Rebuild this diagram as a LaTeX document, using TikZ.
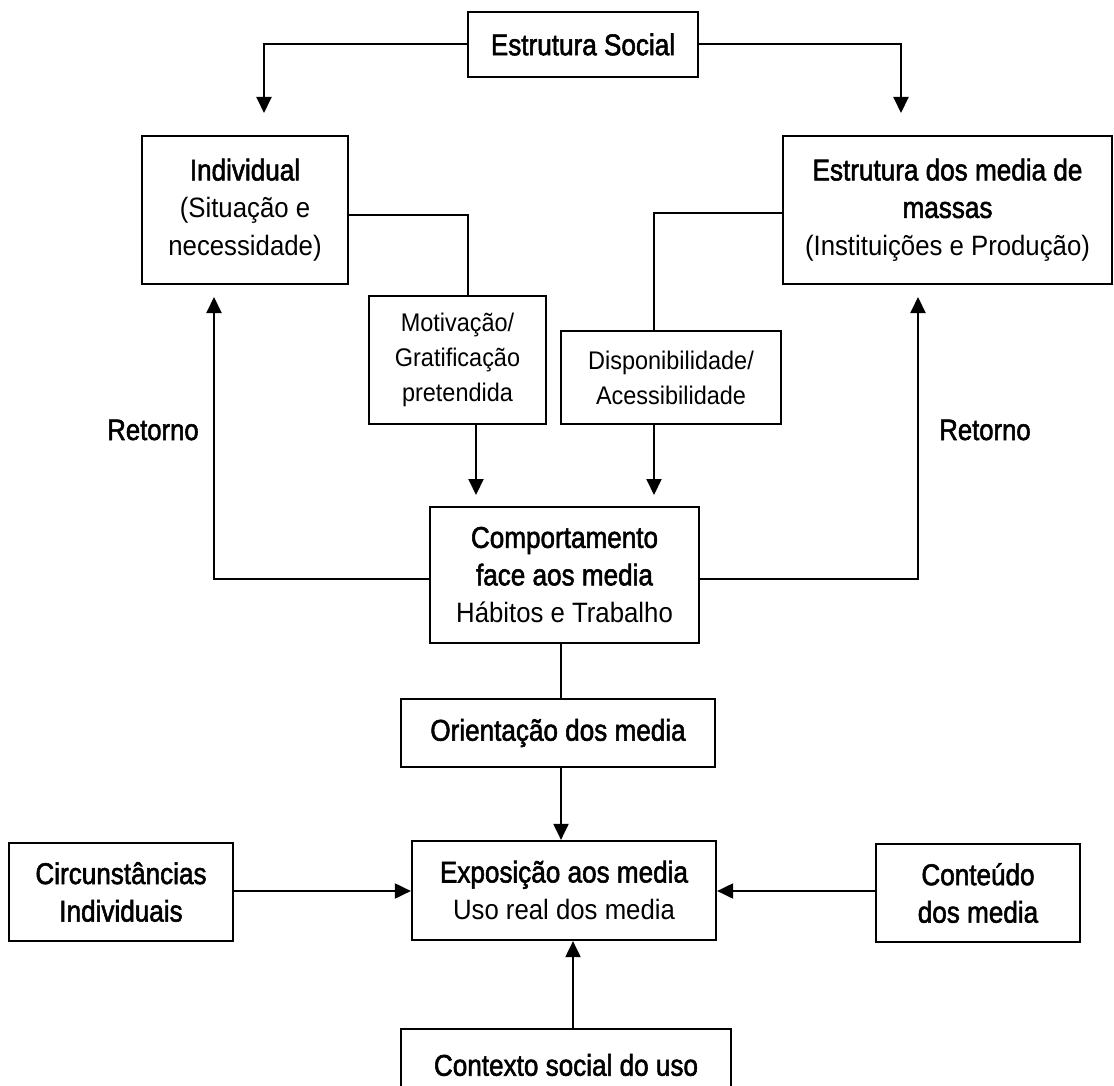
\documentclass[tikz,border=0pt]{standalone}
\usepackage{fontspec}
\setmainfont[FakeStretch=0.92]{Liberation Sans}
\newfontfamily\hv[FakeBold=1.8,FakeStretch=0.87]{Liberation Sans}
\usetikzlibrary{arrows.meta}
\newcommand{\hb}[1]{{\fontsize{30}{37.5}\selectfont\hv #1}}
\tikzset{
  box/.style={draw, line width=2.2pt, inner sep=0pt, align=center,
    font=\fontsize{28}{37.5}\selectfont},
  sbox/.style={box, font=\fontsize{25.5}{35}\selectfont},
  ln/.style={line width=2pt},
  arr/.style={line width=2pt, -{Triangle[width=15pt,length=16pt]}},
  lbl/.style={inner sep=0pt, font=\fontsize{29.5}{30}\selectfont\hv}
}
\begin{document}
\begin{tikzpicture}[x=1pt,y=-1pt]
\useasboundingbox (0,0) rectangle (1114,1086);
\fill[white] (0,0) rectangle (1114,1086);
\clip (0,0) rectangle (1114,1086);

\node[box, minimum width=230pt, minimum height=65pt] (soc) at (583,44.5) {\hb{Estrutura Social}};
\node[box, minimum width=206pt, minimum height=148pt] (ind) at (245,210) {\hb{Individual}\\(Situação e\\necessidade)};
\node[box, minimum width=329pt, minimum height=148pt] (edm) at (947.5,210) {\hb{Estrutura dos media de}\\\hb{massas}\\(Instituições e Produção)};
\node[sbox, minimum width=177pt, minimum height=128pt] (mot) at (457.5,360) {Motivação/\\Gratificação\\pretendida};
\node[sbox, minimum width=220pt, minimum height=93pt] (dis) at (671,377.5) {Disponibilidade/\\Acessibilidade};
\node[box, minimum width=269pt, minimum height=136pt] (comp) at (564.5,575) {\hb{Comportamento}\\\hb{face aos media}\\Hábitos e Trabalho};
\node[box, minimum width=314pt, minimum height=68pt] (ori) at (558,733) {\hb{Orientação dos media}};
\node[box, minimum width=304pt, minimum height=99pt] (exp) at (564,890.5) {\hb{Exposição aos media}\\Uso real dos media};
\node[box, minimum width=224pt, minimum height=98pt] (circ) at (121,892) {\hb{Circunstâncias}\\\hb{Individuais}};
\node[box, minimum width=204pt, minimum height=98pt] (cont) at (978,893) {\hb{Conteúdo}\\\hb{dos media}};
\node[box, minimum width=330pt, minimum height=72pt] (ctx) at (566,1065) {\hb{Contexto social do uso}};
\node[lbl] (ret1) at (153,430) {Retorno};
\node[lbl] (ret2) at (985,430) {Retorno};

% Estrutura Social to the two top boxes
\coordinate (t1) at (264,113);
\coordinate (t2) at (901,113);
\draw[arr] (soc.west) -| (t1);
\draw[arr] (soc.east) -| (t2);

% Individual -> Motivacao ; Estrutura dos media -> Disponibilidade
\coordinate (j1) at (468,215);
\coordinate (j2) at (654,213);
\draw[ln] (ind.east |- j1) -- (j1) -- (j1 |- mot.north);
\draw[ln] (edm.west |- j2) -- (j2) -- (j2 |- dis.north);

% Motivacao / Disponibilidade -> Comportamento
\coordinate (t3) at (476,495);
\coordinate (t4) at (654,495);
\draw[arr] (t3 |- mot.south) -- (t3);
\draw[arr] (t4 |- dis.south) -- (t4);

% Retorno loops
\coordinate (r1) at (214,579);
\coordinate (t5) at (214,297);
\coordinate (r2) at (918,579);
\coordinate (t6) at (918,297);
\draw[arr] (comp.west |- r1) -- (r1) -- (t5);
\draw[arr] (comp.east |- r2) -- (r2) -- (t6);

% Comportamento -> Orientacao -> Exposicao
\coordinate (v1) at (561,0);
\draw[ln] (v1 |- comp.south) -- (v1 |- ori.north);
\draw[arr] (v1 |- ori.south) -- (v1 |- exp.north);

% side inputs
\coordinate (h1) at (0,891);
\draw[arr] (circ.east |- h1) -- (exp.west |- h1);
\draw[arr] (cont.west |- h1) -- (exp.east |- h1);

% Contexto -> Exposicao
\coordinate (v2) at (573,0);
\draw[arr] (v2 |- ctx.north) -- (v2 |- exp.south);
\end{tikzpicture}
\end{document}
